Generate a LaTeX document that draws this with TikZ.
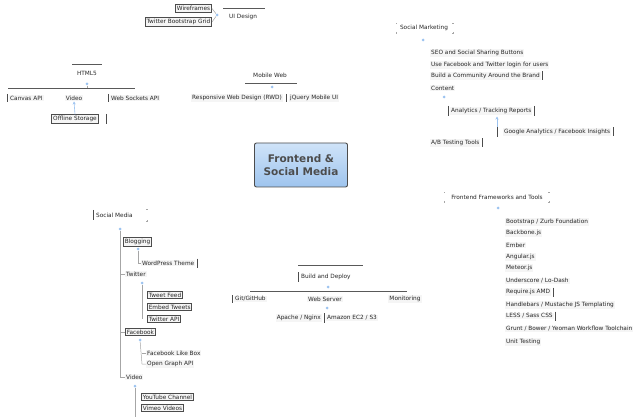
\documentclass[tikz,border=0pt]{standalone}
\usepackage{fontspec}
\setmainfont{DejaVu Sans}
\usetikzlibrary{arrows.meta}
\definecolor{dotblue}{HTML}{9CC3F0}
\definecolor{boxtop}{HTML}{CFE3F8}
\definecolor{boxbot}{HTML}{9EC4EE}
\tikzset{
  lbl/.style={font=\fontsize{5.8}{7}\selectfont, inner sep=1pt, fill=gray!8, text=black!85},
  bx/.style={lbl, draw=gray!60!black, line width=1pt, inner sep=1.3pt},
  ttl/.style={font=\fontsize{5.8}{7}\selectfont, inner sep=1pt, text=black!85},
  bdot/.style={circle, fill=dotblue, inner sep=0pt, minimum size=3pt},
  conn/.style={draw=gray!70, line width=0.5pt},
  rule/.style={draw=gray!70!black, line width=0.8pt},
  arr/.style={draw=dotblue, line width=0.6pt, -{Stealth[length=3pt,width=3pt]}},
  bar/.style={draw=gray!60!black, line width=0.8pt},
}
\begin{document}
\begin{tikzpicture}[x=1pt,y=-1pt]
\useasboundingbox (0,0) rectangle (643,417);

% ---------- centre ----------
\node[draw=gray!60!black, line width=0.9pt, rounded corners=2pt, top color=boxtop, bottom color=boxbot,
      minimum width=93pt, minimum height=44pt, align=center,
      font=\fontsize{10.5}{13}\selectfont\bfseries, text=black!70] (center) at (301,165) {Frontend \&\\Social Media};

% ---------- top: Design ----------
\node[ttl, anchor=west] (design) at (228,17) {UI Design};
\draw[rule] (223,8) -- (265,8);
\node[bdot] (ddot) at (217,15) {};
\node[bx, anchor=east] (d1) at (212,8.5) {Wireframes};
\node[bx, anchor=east] (d2) at (212,22) {Twitter Bootstrap Grid};
\draw[conn] (ddot) -- (d1.east);
\draw[conn] (ddot) -- (d2.east);

% ---------- HTML5 ----------
\node[ttl] (html) at (87,73) {HTML5};
\draw[rule] (72,64) -- (102,64);
\node[bdot] (hdot) at (87,84) {};
\draw[rule] (8,88) -- (135,88);
\node[lbl, anchor=west] (h1) at (9,98) {Canvas API};
\draw[bar] (7,94) -- (7,102);
\node[lbl] (h2) at (74,98) {Video};
\node[lbl, anchor=west] (h3) at (110,98) {Web Sockets API};
\draw[bar] (108,94) -- (108,102);
\draw[conn] (hdot) -- (87,88);
\node[bx] (h4) at (75,119) {Offline Storage};
\draw[bar] (106,114) -- (106,124);
\draw[arr] (h4.north) -- (h2.south);

% ---------- Mobile Web ----------
\node[ttl] (mob) at (270,75) {Mobile Web};
\draw[rule] (245,83) -- (297,83);
\node[bdot] (mdot) at (272,87) {};
\node[lbl, anchor=west] (m1) at (191,98) {Responsive Web Design (RWD)};
\draw[bar] (286,94) -- (286,102);
\node[lbl, anchor=west] (m2) at (289,98) {jQuery Mobile UI};

% ---------- Marketing ----------
\node[ttl] (mkt) at (424,28) {Social Marketing};
\draw[gray!70, line width=0.5pt] (396,24)--(396,23)--(397,23) (452,23)--(453,23)--(453,24) (396,32)--(396,33)--(397,33) (452,33)--(453,33)--(453,32);
\node[bdot] (kdot) at (423,40) {};
\node[lbl, anchor=west] (k1) at (430,53) {SEO and Social Sharing Buttons};
\node[lbl, anchor=west] (k2) at (430,65) {Use Facebook and Twitter login for users};
\node[lbl, anchor=west] (k3) at (430,76) {Build a Community Around the Brand};
\draw[bar] (k3.east) ++(1.5,-4.5) -- ++(0,9);
\node[lbl, anchor=west] (k4) at (430,88) {Content};
\node[bdot] (k4dot) at (444,97) {};
\node[lbl, anchor=west] (k5) at (450,111) {Analytics / Tracking Reports};
\draw[bar] (k5.west) ++(-1.5,-5) -- ++(0,10);
\draw[bar] (k5.east) ++(1.5,-5) -- ++(0,10);
\node[lbl, anchor=west] (k6) at (503,132) {Google Analytics / Facebook Insights};
\draw[bar] (k6.east) ++(1.5,-4.5) -- ++(0,9);
\draw[bar] (497,127) -- (497,137);
\draw[arr] (497,127) -- (497,116.5);
\node[lbl, anchor=west] (k7) at (430,143) {A/B Testing Tools};
\draw[bar] (k7.east) ++(1.5,-4.5) -- ++(0,9);

% ---------- Frontend Frameworks ----------
\node[ttl] (ff) at (497,197) {Frontend Frameworks and Tools};
\draw[gray!70, line width=0.5pt] (444,193)--(444,192)--(445,192) (548,192)--(549,192)--(549,193) (444,201)--(444,202)--(445,202) (548,202)--(549,202)--(549,201);
\node[bdot] (fdot) at (498,208) {};
\foreach \t/\y/\n in {{Bootstrap / Zurb Foundation}/222/f1, Backbone.js/233/f2, Ember/245/f3, Angular.js/257/f4, Meteor.js/268/f5, {Underscore / Lo-Dash}/281/f6, {Require.js AMD}/292/f7, {Handlebars / Mustache JS Templating}/305/f8, {LESS / Sass CSS}/316/f9, {Grunt / Bower / Yeoman Workflow Toolchain}/329/f10, {Unit Testing}/342/f11}
  \node[lbl, anchor=west] (\n) at (505,\y) {\t};
\draw[bar] (f7.east) ++(2,-4.5) -- ++(0,9);
\draw[bar] (f9.east) ++(2,-4.5) -- ++(0,9);

% ---------- Social Media ----------
\node[ttl, anchor=west] (soc) at (95,215) {Social Media};
\draw[bar] (93,210) -- (93,220);
\draw[gray!70, line width=0.5pt] (146,209)--(147,209)--(147,210) (146,221)--(147,221)--(147,220);
\node[bdot] (sdot) at (120,229) {};
\draw[conn] (sdot) -- (120,377);
\node[bx, anchor=west] (s1) at (123,242) {Blogging};
\node[bdot] (s1dot) at (138,249) {};
\node[lbl, anchor=west] (s11) at (141,263) {WordPress Theme};
\draw[conn] (s1dot) -- (138,263) -- (s11.west);
\draw[bar] (s11.east) ++(1.5,-4.5) -- ++(0,9);
\node[lbl, anchor=west] (s2) at (125,274) {Twitter};
\draw[conn] (120,274) -- (s2.west);
\node[bdot] (s2dot) at (142,283) {};
\node[bx, anchor=west] (s21) at (147,295) {Tweet Feed};
\node[bx, anchor=west] (s22) at (147,307) {Embed Tweets};
\node[bx, anchor=west] (s23) at (147,319) {Twitter API};
\draw[conn] (s2dot) -- (142,319);
\node[bx, anchor=west] (s3) at (125,332) {Facebook};
\draw[conn] (120,332) -- (s3.west);
\node[bdot] (s3dot) at (140,340) {};
\node[lbl, anchor=west] (s31) at (146,353) {Facebook Like Box};
\node[lbl, anchor=west] (s32) at (146,364) {Open Graph API};
\draw[conn] (s3dot) -- (142,364) -- (s32.west);
\draw[conn] (142,353) -- (s31.west);
\node[lbl, anchor=west] (s4) at (125,377) {Video};
\draw[conn] (120,377) -- (s4.west);
\node[bdot] (s4dot) at (135,386) {};
\draw[conn] (s4dot) -- (135,417);
\node[bx, anchor=west] (s41) at (141,397) {YouTube Channel};
\node[bx, anchor=west] (s42) at (141,408) {Vimeo Videos};

% ---------- Development ----------
\node[ttl, anchor=west] (dev) at (300,277) {Build and Deploy};
\draw[bar] (298,272) -- (298,282);
\draw[rule] (298,265) -- (363,265);
\node[bdot] (vdot) at (328,287) {};
\draw[rule] (250,291) -- (407,291);
\node[lbl, anchor=west] (v1) at (234,299) {Git/GitHub};
\draw[bar] (232,295) -- (232,303);
\node[lbl] (v2) at (325,299) {Web Server};
\node[lbl] (v3) at (405,299) {Monitoring};
\node[bdot] (v2dot) at (327,308) {};
\node[lbl, anchor=east] (v21) at (322,318) {Apache / Nginx};
\draw[bar] (324,313) -- (324,323);
\node[lbl, anchor=west] (v22) at (326,318) {Amazon EC2 / S3};
\end{tikzpicture}
\end{document}
